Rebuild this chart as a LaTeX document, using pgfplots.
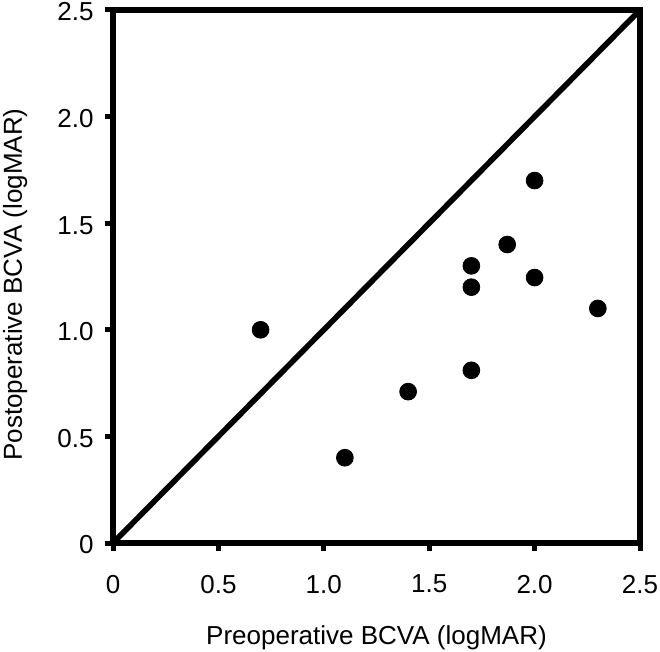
\documentclass[border=0pt]{standalone}
\usepackage{fontspec}
\setmainfont{Liberation Sans}
\usepackage{pgfplots}
\pgfplotsset{compat=1.18}
\usetikzlibrary{calc}

\begin{document}
\begin{tikzpicture}
\begin{axis}[
    name=ax,
    scale only axis,
    width=263.5pt,
    height=266.5pt,
    xmin=0, xmax=2.5,
    ymin=0, ymax=2.5,
    xtick={0,0.5,1.0,1.5,2.0,2.5},
    ytick={0,0.5,1.0,1.5,2.0,2.5},
    xticklabels={0,0.5,1.0,1.5,2.0,2.5},
    yticklabels={0,0.5,1.0,1.5,2.0,2.5},
    tick align=outside,
    tick pos=left,
    major tick length=4pt,
    every tick/.style={black, line width=2.5pt},
    axis line style={line width=2.8pt},
    tick label style={font=\fontsize{13}{15}\selectfont},
    xticklabel style={yshift=-8.5pt},
    yticklabel style={xshift=-2.2pt, yshift=-1pt},
    label style={font=\fontsize{13}{15}\selectfont},
    /pgf/number format/assume math mode=true,
    xlabel={Preoperative BCVA (logMAR)},
    ylabel={Postoperative BCVA (logMAR)},
    xlabel style={at={(axis description cs:0.5,-0.191)}, anchor=base},
    ylabel style={at={(axis description cs:-0.1727,0.485)}, anchor=base},
]
\addplot[black, line width=2.8pt, no marks] coordinates {(0,0) (2.5,2.5)};
\addplot[only marks, mark=*, mark size=4.2pt, black] coordinates {
    (0.7,1.0)
    (1.1,0.4)
    (1.4,0.71)
    (1.7,0.81)
    (1.7,1.2)
    (1.7,1.3)
    (1.87,1.4)
    (2.0,1.7)
    (2.0,1.245)
    (2.3,1.1)
};
\end{axis}
\pgfresetboundingbox
\useasboundingbox ($(ax.south west)+(-56.5pt,-54pt)$) rectangle ($(ax.north east)+(10pt,5pt)$);
\end{tikzpicture}
\end{document}
